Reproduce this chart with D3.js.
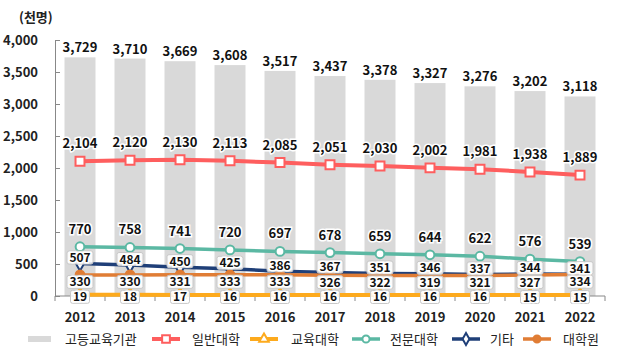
<!DOCTYPE html>
<html>
<head>
<meta charset="utf-8">
<script src="https://cdn.jsdelivr.net/npm/d3@7"></script>
<style>
  body { margin: 0; background: #fff; }
  text { font-family: "Noto Sans CJK KR", "Noto Sans", sans-serif; }
</style>
</head>
<body>
<script>
var w = 619, h = 361;

var years = ["2012","2013","2014","2015","2016","2017","2018","2019","2020","2021","2022"];
var yTicks = [0, 500, 1000, 1500, 2000, 2500, 3000, 3500, 4000];

// 고등교육기관 (bar)
var total   = [3729, 3710, 3669, 3608, 3517, 3437, 3378, 3327, 3276, 3202, 3118];
// lines
var general = [2104, 2120, 2130, 2113, 2085, 2051, 2030, 2002, 1981, 1938, 1889];
var edu     = [19, 18, 17, 16, 16, 16, 16, 16, 16, 15, 15];
var college = [770, 758, 741, 720, 697, 678, 659, 644, 622, 576, 539];
var other   = [507, 484, 450, 425, 386, 367, 351, 346, 337, 344, 341];
var grad    = [330, 330, 331, 333, 333, 326, 322, 319, 321, 327, 334];

var fmt = d3.format(",");

var svg = d3.select("body").append("svg")
  .attr("width", w).attr("height", h);

var x = d3.scaleBand().domain(years).range([55, 605])
  .paddingInner(0.38).paddingOuter(0.19);
var y = d3.scaleLinear().domain([0, 4000]).range([296, 40]);
var cx = function(d) { return x(d) + x.bandwidth() / 2; };

// unit
svg.append("text").attr("x", 19).attr("y", 22)
  .attr("font-size", 13).attr("font-weight", "bold").attr("fill", "#222")
  .text("(천명)");

// bars
svg.append("g").selectAll("rect")
  .data(years)
  .enter().append("rect")
  .attr("x", function(d) { return x(d); })
  .attr("width", x.bandwidth())
  .attr("y", function(d, i) { return y(total[i]); })
  .attr("height", function(d, i) { return y(0) - y(total[i]); })
  .attr("fill", "#d9d9d9");

// y axis
var yAxis = svg.append("g").attr("transform", "translate(55,0)")
  .call(d3.axisLeft(y).tickValues(yTicks).tickFormat(fmt).tickSize(-5).tickPadding(17));
yAxis.select(".domain").attr("stroke", "#888");
yAxis.selectAll(".tick line").attr("stroke", "#888");
yAxis.selectAll("text").attr("font-size", 13).attr("font-weight", "bold")
  .attr("fill", "#222").style("font-family", "'Noto Sans CJK KR', sans-serif");

// x axis
svg.append("line").attr("x1", 55).attr("x2", 605).attr("y1", 296).attr("y2", 296)
  .attr("stroke", "#888");
var bounds = years.map(function(d) { return cx(d) - x.step() / 2; });
bounds.push(cx(years[years.length - 1]) + x.step() / 2);
svg.append("g").selectAll("line").data(bounds).enter().append("line")
  .attr("x1", function(d) { return d; }).attr("x2", function(d) { return d; })
  .attr("y1", 296).attr("y2", 301).attr("stroke", "#888");
svg.append("g").selectAll("text").data(years).enter().append("text")
  .attr("x", cx).attr("y", 322)
  .attr("text-anchor", "middle").attr("font-size", 13).attr("font-weight", "bold")
  .attr("fill", "#222").text(function(d) { return d; });

var series = [
  { name: "일반대학", values: general, color: "#fe5e5e", width: 4,   marker: "square",   fill: "#fff", dy: -18, box: false },
  { name: "교육대학", values: edu,     color: "#fdaa1d", width: 4,   marker: "triangle", fill: "#fff", dy: 2,   box: true },
  { name: "전문대학", values: college, color: "#5bb8a3", width: 3.5, marker: "circle",   fill: "#fff", dy: -18, box: false },
  { name: "기타",     values: other,   color: "#1f3f78", width: 3.5, marker: "diamond",  fill: "#fff", dy: -6,  box: true },
  { name: "대학원",   values: grad,    color: "#e07d35", width: 3.5, marker: "circle",   fill: "#e07d35", dy: 7, box: true }
];

var symbolOf = {
  square: d3.symbolSquare, triangle: d3.symbolTriangle,
  circle: d3.symbolCircle, diamond: d3.symbolDiamond
};

var line = d3.line()
  .x(function(d) { return cx(d.year); })
  .y(function(d) { return y(d.v); });

series.forEach(function(s) {
  var pts = years.map(function(yr, i) { return { year: yr, v: s.values[i] }; });
  svg.append("path").datum(pts)
    .attr("d", line).attr("fill", "none")
    .attr("stroke", s.color).attr("stroke-width", s.width);
  svg.append("g").selectAll("path").data(pts).enter().append("path")
    .attr("transform", function(d) { return "translate(" + cx(d.year) + "," + y(d.v) + ")"; })
    .attr("d", d3.symbol().type(symbolOf[s.marker]).size(s.marker == "square" ? 80 : 60))
    .attr("fill", s.fill).attr("stroke", s.color).attr("stroke-width", 2);
});

// data labels
function label(g, tx, ty, txt, box) {
  var fs = box ? 12 : 13;
  if (box) {
    var bw = txt.length * 7 + 5;
    g.append("rect").attr("x", tx - bw / 2).attr("y", ty - 6.5).attr("width", bw).attr("height", 13)
      .attr("rx", 2).attr("fill", "#fff").attr("fill-opacity", 0.85)
      .attr("stroke", "#c8c8c8").attr("stroke-width", 1);
  }
  g.append("text").attr("x", tx).attr("y", ty + (box ? 4.5 : 5))
    .attr("text-anchor", "middle").attr("font-size", fs).attr("font-weight", "bold")
    .attr("fill", "#111").attr("stroke", "#fff").attr("stroke-width", 3)
    .attr("paint-order", "stroke").text(txt);
}

var lab = svg.append("g");
years.forEach(function(yr, i) {
  label(lab, cx(yr), y(total[i]) - 10, fmt(total[i]), false);
});
// boxed labels drawn bottom-up so upper ones sit on top
[0, 2, 1, 4, 3].map(function(k) { return series[k]; }).forEach(function(s) {
  years.forEach(function(yr, i) {
    label(lab, cx(yr), y(s.values[i]) + s.dy, fmt(s.values[i]), s.box);
  });
});

// legend
var legend = svg.append("g").attr("transform", "translate(0,339)");
legend.append("rect").attr("x", 28).attr("y", -3).attr("width", 23).attr("height", 6).attr("fill", "#d9d9d9");
legend.append("text").attr("x", 65).attr("y", 5).attr("font-size", 13).attr("fill", "#222").text("고등교육기관");
var legendX = [152, 250, 352, 452, 523];
var textX = [192, 291, 390, 490, 563];
series.forEach(function(s, i) {
  legend.append("line").attr("x1", legendX[i]).attr("x2", legendX[i] + 28)
    .attr("stroke", s.color).attr("stroke-width", s.width);
  legend.append("path")
    .attr("transform", "translate(" + (legendX[i] + 14) + ",0)")
    .attr("d", d3.symbol().type(symbolOf[s.marker]).size(s.marker == "square" ? 60 : 40))
    .attr("fill", s.fill).attr("stroke", s.color).attr("stroke-width", 2);
  legend.append("text").attr("x", textX[i]).attr("y", 5).attr("font-size", 13)
    .attr("fill", "#222").text(s.name);
});
</script>
</body>
</html>
